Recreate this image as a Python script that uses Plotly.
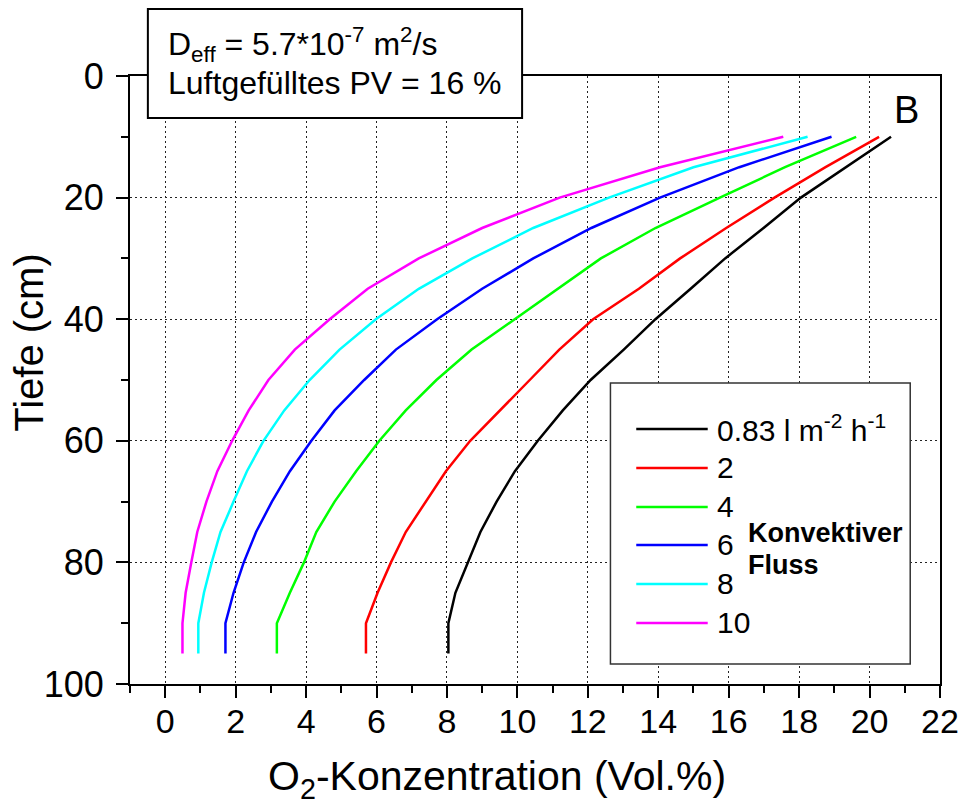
import plotly.graph_objects as go

# ---------------- data ----------------
depth_cm = [10, 15, 20, 25, 30, 35, 40, 45, 50, 55, 60, 65, 70, 75, 80, 85, 90, 95]

o2_flux_083 = [20.61, 19.33, 18.05, 16.99, 15.90, 14.92, 13.92, 13.02, 12.08, 11.29,
               10.58, 9.93, 9.41, 8.95, 8.59, 8.24, 8.04, 8.04]
o2_flux_2 = [20.27, 18.75, 17.30, 15.93, 14.62, 13.45, 12.15, 11.19, 10.35, 9.50,
             8.66, 7.97, 7.39, 6.83, 6.41, 6.03, 5.70, 5.70]
o2_flux_4 = [19.62, 17.60, 15.75, 13.92, 12.37, 11.15, 9.95, 8.70, 7.70, 6.83,
             6.08, 5.42, 4.81, 4.29, 3.94, 3.54, 3.17, 3.17]
o2_flux_6 = [18.92, 16.30, 14.05, 12.10, 10.45, 9.00, 7.72, 6.55, 5.65, 4.81,
             4.15, 3.54, 3.03, 2.58, 2.23, 1.94, 1.71, 1.71]
o2_flux_8 = [18.24, 15.00, 12.60, 10.45, 8.72, 7.20, 5.98, 4.95, 4.10, 3.38,
             2.79, 2.32, 1.94, 1.57, 1.32, 1.10, 0.94, 0.94]
o2_flux_10 = [17.55, 14.05, 11.20, 9.00, 7.20, 5.75, 4.67, 3.68, 2.93, 2.37,
              1.90, 1.48, 1.17, 0.91, 0.74, 0.58, 0.49, 0.49]

series_labels = ["0.83 l m<sup>-2</sup> h<sup>-1</sup>", "2", "4", "6", "8", "10"]
series_colors = ["#000000", "#FF0000", "#00FF00", "#0000FF", "#00FFFF", "#FF00FF"]
series_values = [o2_flux_083, o2_flux_2, o2_flux_4, o2_flux_6, o2_flux_8, o2_flux_10]

x_tick_vals = list(range(0, 23, 2))
y_tick_vals = list(range(0, 101, 20))

# ---------------- figure ----------------
# the page body has an 8px default margin; all positions below are given in
# window pixels and converted to figure pixels.
OFF = 8
W, H = 971 - OFF, 808 - OFF
PLOT_L, PLOT_R, PLOT_T, PLOT_B = 130, 946, 76, 684          # window pixels
ML, MR = PLOT_L - OFF, W - (PLOT_R - OFF)
MT, MB = PLOT_T - OFF, H - (PLOT_B - OFF)
PW, PH = W - ML - MR, H - MT - MB
FONT = "Liberation Sans, Arial, Helvetica, sans-serif"


def px_x(p):
    return (p - OFF - ML) / PW


def px_y(p):
    return (H - MB - (p - OFF)) / PH


fig = go.Figure()
for vals, col, lab in zip(series_values, series_colors, series_labels):
    fig.add_trace(go.Scatter(x=vals, y=depth_cm, mode="lines", name=lab,
                             line=dict(color=col, width=2.5), showlegend=False,
                             hoverinfo="x+y"))

axis_common = dict(
    showline=True, linewidth=2, linecolor="black", mirror=True,
    ticks="outside", ticklen=12, tickwidth=2, tickcolor="black",
    showgrid=True, gridcolor="#222222", gridwidth=1, griddash="2px,3px",
    zeroline=False,
)

fig.update_xaxes(range=[-1, 22], tickvals=x_tick_vals, ticklabelstandoff=-6,
                 tickfont=dict(family=FONT, size=34, color="black"),
                 minor=dict(dtick=1, tick0=0, ticks="outside", ticklen=7, tickwidth=2,
                            tickcolor="black", showgrid=False),
                 **axis_common)
fig.update_yaxes(range=[100, 0], tickvals=y_tick_vals, ticklabelstandoff=5,
                 tickfont=dict(family=FONT, size=36, color="black"),
                 minor=dict(dtick=10, tick0=0, ticks="outside", ticklen=7, tickwidth=2,
                            tickcolor="black", showgrid=False),
                 **axis_common)

shapes = []
annotations = []

# info box
shapes.append(dict(type="rect", xref="paper", yref="paper",
                   x0=px_x(148), x1=px_x(525), y0=px_y(118), y1=px_y(9),
                   line=dict(color="black", width=2), fillcolor="white", layer="above"))
annotations.append(dict(xref="paper", yref="paper", x=px_x(166), y=px_y(44),
                        xanchor="left", yanchor="middle", showarrow=False,
                        text="D<sub>eff</sub> = 5.7*10<sup>-7</sup> m<sup>2</sup>/s",
                        font=dict(family=FONT, size=32, color="black")))
annotations.append(dict(xref="paper", yref="paper", x=px_x(166), y=px_y(83),
                        xanchor="left", yanchor="middle", showarrow=False,
                        text="Luftgefülltes PV = 16 %",
                        font=dict(family=FONT, size=32, color="black")))

# legend box
shapes.append(dict(type="rect", xref="paper", yref="paper",
                   x0=px_x(614), x1=px_x(916), y0=px_y(664), y1=px_y(383),
                   line=dict(color="#333333", width=1.5), fillcolor="white", layer="above"))
legend_rows = [429, 468, 507, 545, 584, 623]
for row, col, lab in zip(legend_rows, series_colors, series_labels):
    shapes.append(dict(type="line", xref="paper", yref="paper",
                       x0=px_x(640), x1=px_x(712), y0=px_y(row), y1=px_y(row),
                       line=dict(color=col, width=2.5), layer="above"))
    annotations.append(dict(xref="paper", yref="paper", x=px_x(719), y=px_y(row - 1),
                            xanchor="left", yanchor="middle", showarrow=False,
                            text=lab, font=dict(family=FONT, size=30, color="black")))
annotations.append(dict(xref="paper", yref="paper", x=px_x(751), y=px_y(533),
                        xanchor="left", yanchor="middle", showarrow=False,
                        text="<b>Konvektiver</b>",
                        font=dict(family=FONT, size=27, color="black")))
annotations.append(dict(xref="paper", yref="paper", x=px_x(751), y=px_y(565),
                        xanchor="left", yanchor="middle", showarrow=False,
                        text="<b>Fluss</b>",
                        font=dict(family=FONT, size=27, color="black")))

# panel letter
annotations.append(dict(xref="paper", yref="paper", x=px_x(912), y=px_y(110),
                        xanchor="center", yanchor="middle", showarrow=False,
                        text="B", font=dict(family=FONT, size=38, color="black")))

# axis titles
annotations.append(dict(xref="paper", yref="paper", x=px_x(500), y=px_y(779),
                        xanchor="center", yanchor="middle", showarrow=False,
                        text="O<sub>2</sub>-Konzentration (Vol.%)",
                        font=dict(family=FONT, size=41, color="black")))
annotations.append(dict(xref="paper", yref="paper", x=px_x(28), y=px_y(342),
                        xanchor="center", yanchor="middle", showarrow=False,
                        textangle=-90, text="Tiefe (cm)",
                        font=dict(family=FONT, size=40, color="black")))

fig.update_layout(
    width=W, height=H,
    margin=dict(l=ML, r=MR, t=MT, b=MB, pad=0),
    paper_bgcolor="white", plot_bgcolor="white",
    font=dict(family=FONT, color="black"),
    showlegend=False,
    shapes=shapes, annotations=annotations,
)

fig.write_html("out.html")
